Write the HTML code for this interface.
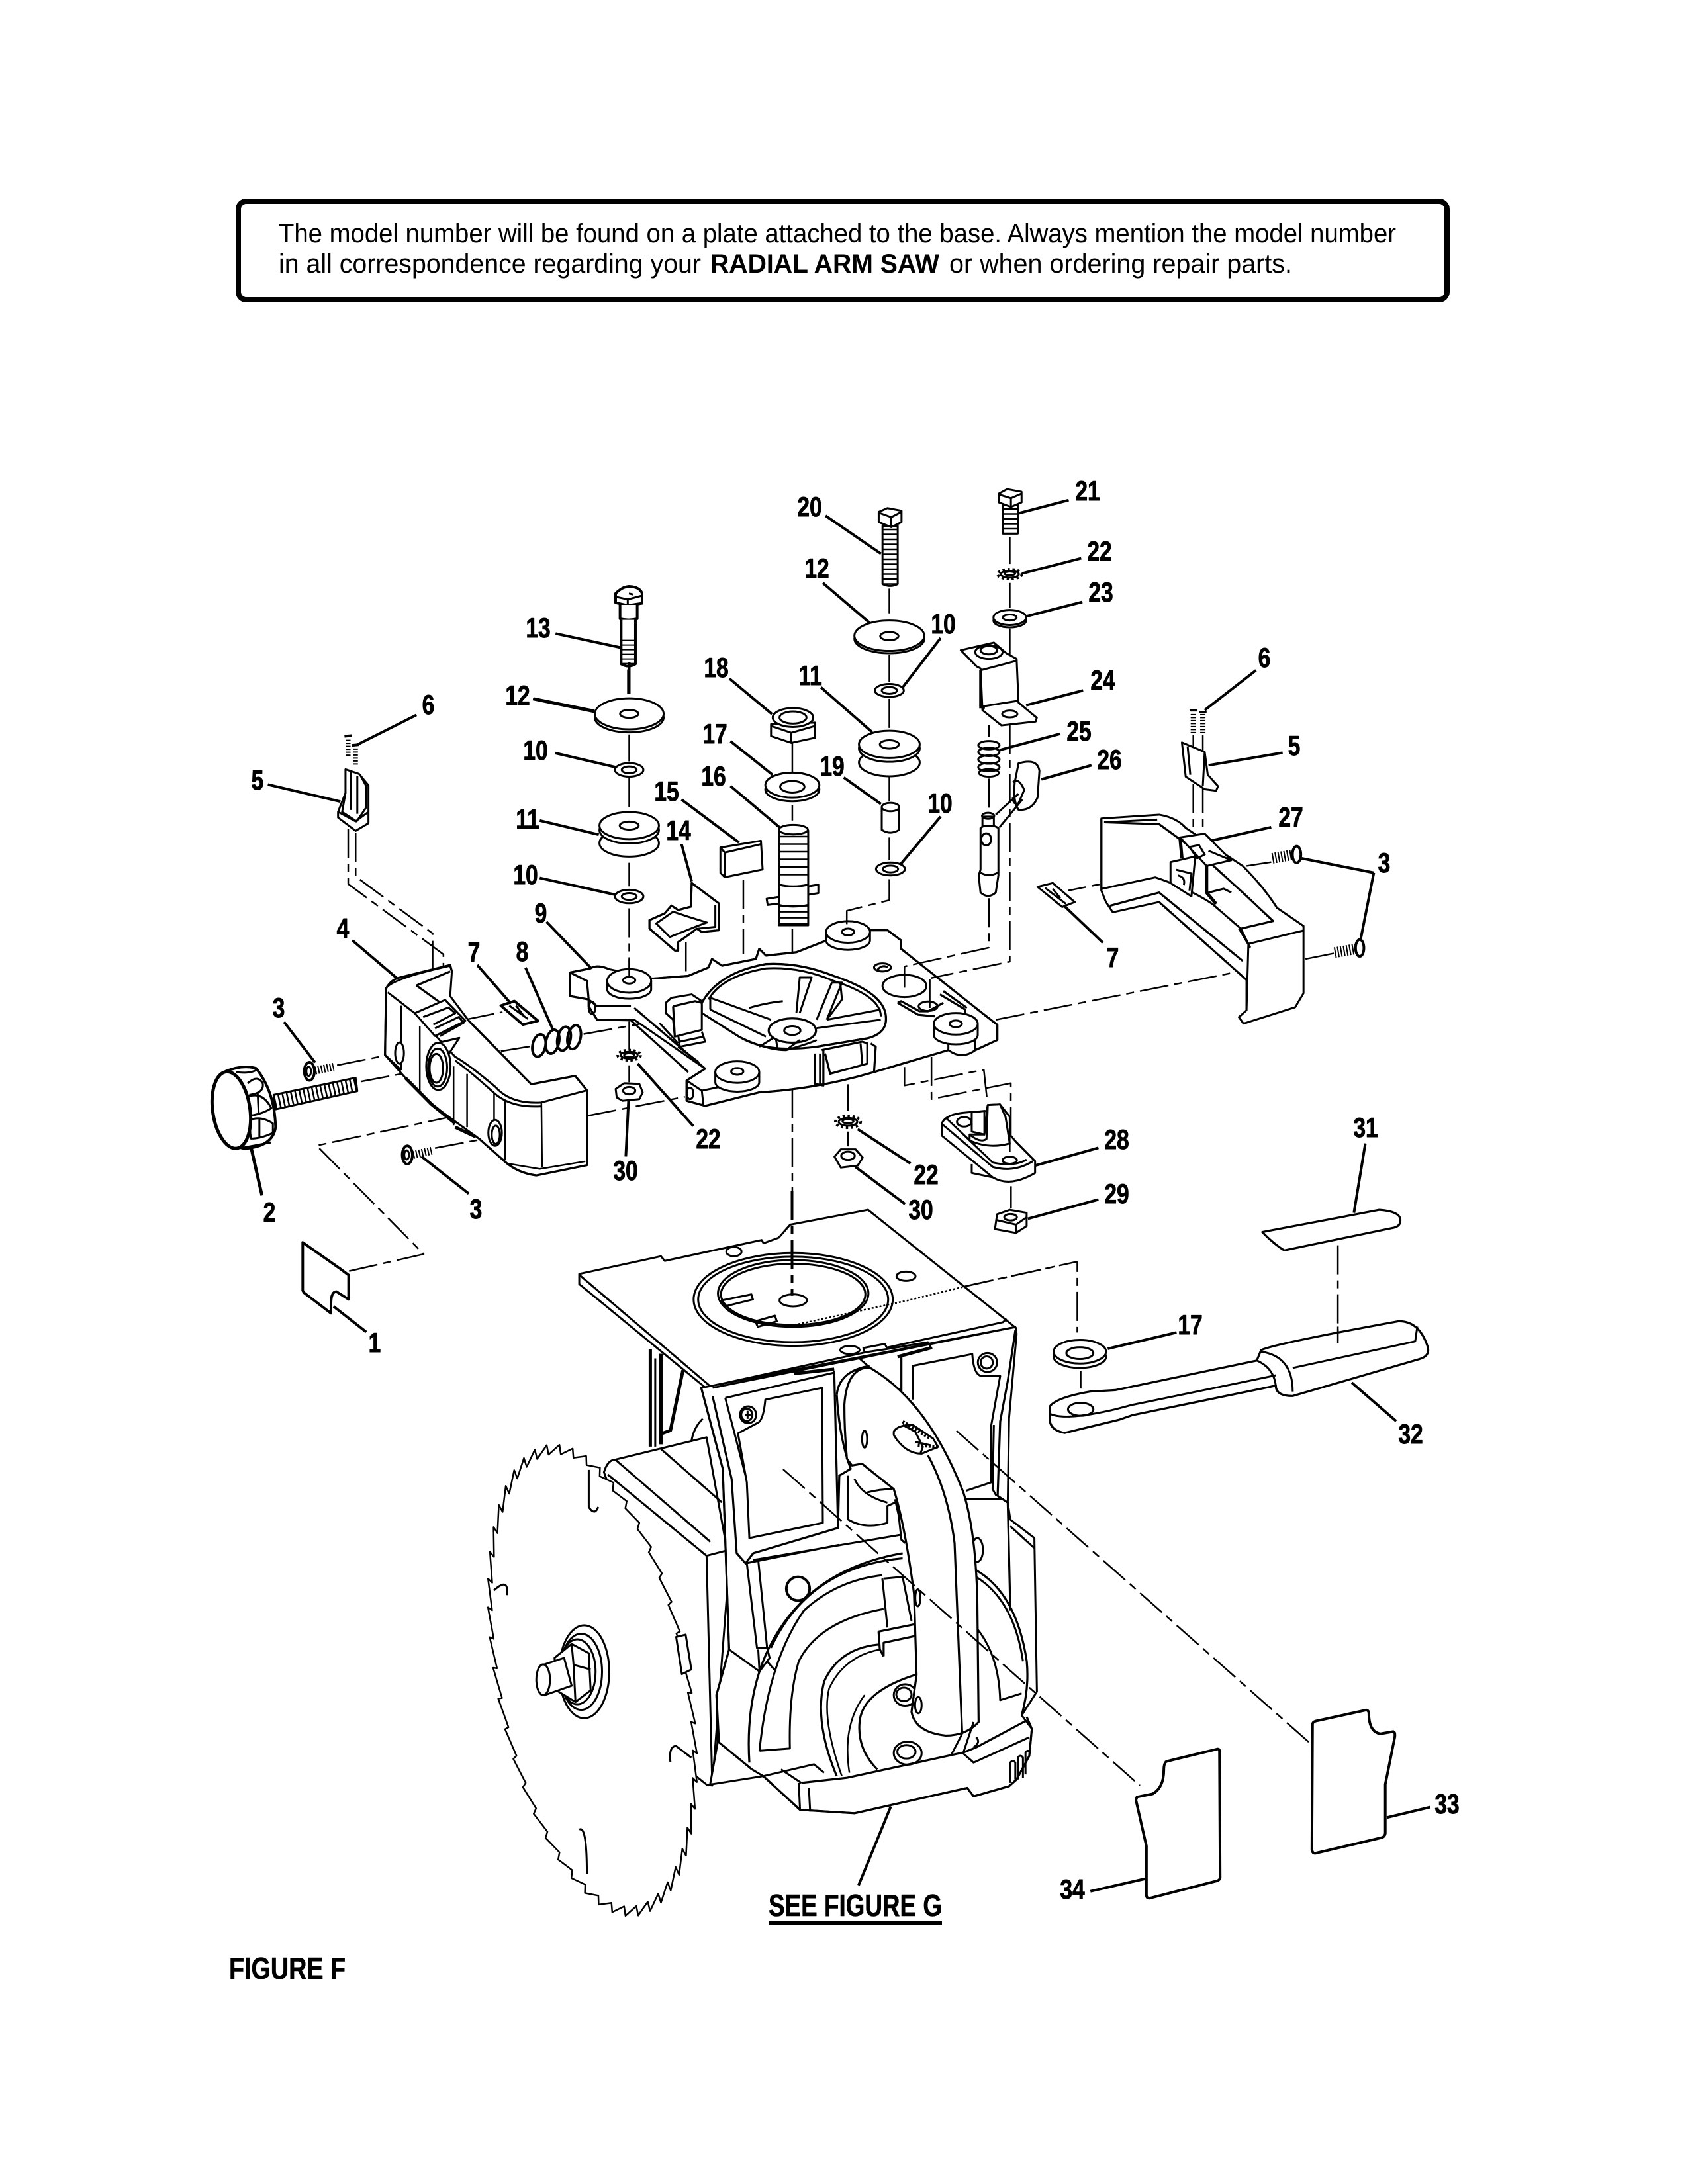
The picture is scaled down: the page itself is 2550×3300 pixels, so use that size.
<!DOCTYPE html>
<html><head><meta charset="utf-8"><style>
html,body{margin:0;padding:0;background:#fff}
svg{display:block}
svg *{vector-effect:non-scaling-stroke}
.w{fill:#fff}
.d{stroke-dasharray:44 9 12 9;stroke-width:2.5}
.L{stroke-width:4}
.T{stroke-width:3.2}
.b{stroke-width:5}
.th{stroke-dasharray:2.5 4}
.lk{stroke-dasharray:3.5 4;stroke-width:4}
text{font-family:"Liberation Sans",sans-serif;fill:#000;stroke:none}
.n{font-weight:bold;font-size:42px;text-anchor:middle;stroke:#000;stroke-width:.8}
.p{font-size:40px}
.c{font-weight:bold;font-size:46px;stroke:#000;stroke-width:.6}
</style></head><body>
<svg xmlns="http://www.w3.org/2000/svg" width="2550" height="3300" viewBox="0 0 2550 3300" fill="none" stroke="#000" stroke-width="3" stroke-linejoin="round" stroke-linecap="butt">
<rect x="360" y="304" width="1826" height="149" rx="12" stroke-width="8"/>
<text class="p" x="421" y="366" textLength="1688" lengthAdjust="spacingAndGlyphs">The model number will be found on a plate attached to the base. Always mention the model number</text>
<text class="p" x="421" y="412" textLength="638" lengthAdjust="spacingAndGlyphs">in all correspondence regarding your</text>
<text class="p" x="1073" y="412" font-weight="bold" textLength="346" lengthAdjust="spacingAndGlyphs">RADIAL ARM SAW</text>
<text class="p" x="1434" y="412" textLength="518" lengthAdjust="spacingAndGlyphs">or when ordering repair parts.</text>

<!-- Z6: body box, plate -->
<g transform="translate(700,1800) scale(.574,.7015)">
<path class="w" d="M370,605Q380,578 400,578L640,530L700,800L655,1280L640,1278L605,1255L500,900Z"/>
<path d="M380,610L640,785L710,770M400,578L650,755M520,555L680,670M640,785L655,1278"/>
<path class="b" d="M492,340L492,550M520,350L520,545M578,385L545,515L522,522"/>
<path d="M630,490Q605,510 600,540M505,360L505,550"/>
<path class="w" d="M305,178L520,140L530,150L785,105L790,112L830,100L860,72L1065,40L1425,275L1455,295L1450,312L660,440L640,425L305,200Z"/>
<path d="M305,180L650,420L1420,282L1430,275"/>
<path class="L" d="M640,425L1450,297"/>
<ellipse cx="868" cy="233" rx="262" ry="100"/><ellipse cx="868" cy="233" rx="250" ry="92"/>
<ellipse cx="868" cy="220" rx="198" ry="72"/><ellipse cx="868" cy="222" rx="190" ry="66"/>
<ellipse cx="868" cy="235" rx="36" ry="13"/>
<path d="M680,235L758,222L762,233L688,248ZM768,280L820,268L825,280L775,292Z"/>
<ellipse cx="712" cy="130" rx="20" ry="10"/><ellipse cx="1165" cy="183" rx="25" ry="10"/>
<path d="M860,290L1170,235L1320,205" stroke-dasharray="3 3" stroke-width="2.5"/>
<path class="d" d="M1320,205L1568,160"/>
<path class="L" d="M865,0L865,225" stroke-dasharray="44 9 12 9"/>
<path class="L" d="M1125,1325L1040,1495"/>
</g>

<!-- blade -->
<g transform="translate(895,2539) rotate(-11) scale(.906,1.034)">
<path class="w" stroke-width="2.5" d="M160,0L153.6,0L158.6,45.7L152.3,43.9L154.5,90.6L148.3,87L147.8,133.9L141.9,128.5L138.6,175L133,168L126.9,213L121.8,204.5L113.1,247.5L108.6,237.6L97.4,277.7L93.5,266.6L80,303L76.8,290.9L61.2,323.4L58.8,310.5L41.4,338L39.7,324.5L20.9,347L20.1,333L0,350L0,336L-20.9,347L-20.1,333L-41.4,338L-39.7,324.5L-61.2,323.4L-58.8,310.5L-80,303L-76.8,290.9L-97.4,277.7L-93.5,266.6L-113.1,247.5L-108.6,237.6L-126.9,213L-121.8,204.5L-138.6,175L-133,168L-147.8,133.9L-141.9,128.5L-154.5,90.6L-148.3,87L-158.6,45.7L-152.3,43.9L-160,0L-153.6,0L-158.6,-45.7L-152.3,-43.9L-154.5,-90.6L-148.3,-87L-147.8,-133.9L-141.9,-128.5L-138.6,-175L-133,-168L-126.9,-213L-121.8,-204.5L-113.1,-247.5L-108.6,-237.6L-97.4,-277.7L-93.5,-266.6L-80,-303L-76.8,-290.9L-61.2,-323.4L-58.8,-310.5L-41.4,-338L-39.7,-324.5L-20.9,-347L-20.1,-333L0,-350L0,-336L20.9,-347L20.1,-333L41.4,-338L39.7,-324.5L61.2,-323.4L58.8,-310.5L80,-303L76.8,-290.9L97.4,-277.7L93.5,-266.6L113.1,-247.5L108.6,-237.6L126.9,-213L121.8,-204.5L138.6,-175L133,-168L147.8,-133.9L141.9,-128.5L154.5,-90.6L148.3,-87L158.6,-45.7L152.3,-43.9Z"/>
</g>
<g transform="translate(700,1800) scale(.574,.7015)">
<path d="M330,600L330,680Q345,700 355,680M80,860Q120,830 115,870M545,1230Q540,1195 560,1195L600,1220M305,1375Q325,1365 325,1470"/>
<path class="w" d="M560,960L585,955L600,1030L575,1040Z"/>
<ellipse class="w" cx="318" cy="1035" rx="66" ry="100"/><ellipse cx="310" cy="1035" rx="55" ry="82"/><ellipse cx="300" cy="1035" rx="48" ry="70"/>
<path class="w" d="M240,1005L285,975L330,995L335,1075L295,1100L245,1075Z"/>
<path d="M285,975L290,1020L335,1030M290,1020L295,1100"/>
<path class="w" d="M210,1020L265,1005L285,1065L215,1085Z"/><ellipse class="w" cx="210" cy="1052" rx="18" ry="33"/>
</g>

<!-- Z7: saw body -->
<g transform="translate(1000,2000) scale(.3827,.5102)">
<path class="w" d="M155,190L1395,10L1400,30L1370,280L1365,530L1375,580L1470,635L1480,1090L1420,1160L1460,1200L1450,1280L1400,1350L1370,1370L1230,1400L1205,1375L760,1450L545,1440L400,1340L190,1365L220,1240L215,1100L265,965L240,430Z"/>
<path class="T" d="M155,190L240,430L265,965L215,1100L225,1240L355,1320M200,215L275,460L295,680L330,710L360,680L695,605L680,140"/>
<path d="M200,190L1395,10M250,220L680,145M250,220L335,465"/>
<path class="b" d="M520,148L680,135M930,98L1060,72"/>
<path class="w" d="M300,325L335,470L345,635L635,590L632,190L408,225Q400,290 375,295Z"/>
<ellipse cx="340" cy="270" rx="32" ry="25"/><ellipse cx="335" cy="270" rx="22" ry="18"/>
<path d="M328,270L350,270M338,258L338,282"/>
<path d="M990,225L990,125L1225,90Q1230,150 1260,155L1335,155L1300,300L1300,470L1200,495"/>
<ellipse cx="1285" cy="115" rx="38" ry="28"/><ellipse cx="1282" cy="115" rx="24" ry="18"/>
<path class="T" d="M945,100L945,210M1395,20L1365,170L1335,290L1325,510L1365,530L1375,850"/>
<path d="M1310,300L1305,490L1320,510M1375,600L1470,665M1195,520L1350,520"/>
<path d="M360,700L945,625M330,710L700,655"/>
<path d="M335,710L375,960L415,960L380,700M380,965L385,1030L265,965M415,960L425,990L385,1030"/>
<ellipse cx="537" cy="785" rx="46" ry="35" stroke-width="4"/>
<ellipse cx="1245" cy="670" rx="22" ry="35"/>
<path class="T" d="M690,210Q700,140 820,125M690,210Q700,340 745,430L700,450L695,600"/>
<path d="M735,450L735,580Q800,610 890,590L890,540L920,530M760,460Q790,510 890,530M810,500Q860,490 910,490"/>
<!-- guard -->
<path class="T" d="M345,1300Q330,1120 410,980Q560,730 950,680M430,960Q580,720 950,695"/>
<path d="M385,1265Q420,1000 560,850Q690,760 870,745M415,1000L450,1030"/>
<path d="M385,1265L505,1258Q500,1100 540,1000Q620,880 875,845M355,1320L400,1340L600,1305L640,1330"/>
<path d="M870,755L890,900M875,755L950,750L985,880"/>
<path class="T" d="M855,912L1000,890M875,985L875,945L1000,925M855,912L860,965L875,985"/>
<!-- disk -->
<path class="T" d="M690,1340Q600,1180 640,1060Q700,960 860,950M850,1320Q770,1260 780,1180Q790,1090 1000,1040"/>
<path stroke-width="2.5" d="M710,1340Q630,1170 660,1080Q720,985 860,965M740,1330Q710,1190 800,1100"/>
<ellipse cx="960" cy="1100" rx="45" ry="32"/><ellipse cx="955" cy="1098" rx="30" ry="20"/>
<ellipse cx="970" cy="1272" rx="55" ry="34"/><ellipse cx="965" cy="1268" rx="36" ry="20"/>
<!-- right side of guard -->
<path class="T" d="M1240,730Q1400,800 1440,1000Q1450,1080 1420,1160"/>
<path d="M1240,750Q1390,820 1425,1000M1240,900Q1330,980 1335,1115L1420,1095"/>
<!-- base -->
<path class="T" d="M400,1340L545,1440L760,1450L1205,1375L1230,1400L1370,1370L1400,1350L1450,1280L1460,1200L1440,1165"/>
<path class="T" d="M550,1360L730,1345L1190,1270L1240,1255L1440,1175"/>
<path d="M470,1320L550,1360M540,1360L545,1440M580,1375L585,1445M1185,1270L1230,1300L1450,1225M1240,1225Q1260,1240 1230,1255"/>
<path d="M1375,1360L1375,1300Q1385,1290 1395,1300L1395,1350M1405,1350L1405,1285Q1415,1275 1425,1285L1425,1345M1435,1335L1435,1270Q1445,1260 1455,1270"/>
<!-- pipe -->
<path class="w T" d="M820,130Q1050,230 1190,500Q1240,620 1245,830L1250,1180Q1200,1220 1120,1220Q1000,1210 985,1150L1005,1040L995,800Q960,600 915,490L790,415L750,420L730,400Q720,320 720,240Q730,130 820,130Z"/>
<path class="T" d="M1050,390Q1130,500 1155,650L1185,1215"/>
<path d="M820,130L775,100M920,520L935,570L945,640L960,650M1185,1215L1140,1280M1230,1180L1190,1270"/>
<ellipse cx="800" cy="342" rx="10" ry="25"/><ellipse cx="1010" cy="812" rx="10" ry="25"/><ellipse cx="1012" cy="1130" rx="13" ry="24"/>
<path class="w" d="M915,320Q930,300 990,300L1070,340L1090,365L1025,385Q960,385 915,330Z"/>
<path stroke-width="5" stroke-dasharray="3 2.5" d="M950,290L1060,340M1010,360L1090,365"/>
<path d="M1020,385L1030,365L1000,320L950,300M1000,350L1060,360"/>
<path class="w" d="M795,72L880,60L890,75L800,85Z"/><ellipse cx="742" cy="78" rx="38" ry="12"/>
<path d="M890,75L1050,55L1065,75"/>
</g>
<path class="d" d="M1183,2220L1722,2698M1445,2162L1978,2633"/>

<!-- Z8: plates 33 34 -->
<g transform="translate(1500,2450) scale(.478)">
<path class="w L" d="M1010,325Q1010,318 1020,315L1180,280Q1188,282 1188,290Q1188,350 1225,355L1265,348Q1272,350 1270,365L1240,515L1240,670Q1238,680 1230,683L1018,733Q1010,733 1008,722Z"/>
<path class="w L" d="M455,555L505,545Q540,525 540,470Q540,445 550,442L710,403Q716,403 716,410L718,810Q716,818 708,820L495,875Q485,875 485,865L485,710L452,565Z"/>
<path class="L" d="M1245,620L1382,587M308,853L482,813"/>
</g>

<!-- Z9: part 1 -->
<g transform="translate(300,1650) scale(.3333)">
<path class="w L" d="M472,682L640,800L680,830L680,940L625,905Q600,905 600,960L600,1003L478,910L472,900Z"/>
<path class="L" d="M612,972L760,1088M240,255L288,467"/>
<path class="d" d="M682,812L1020,735L535,243L1270,85"/>
</g>

<!-- Z10: bolt 13 -->
<g transform="translate(740,840) scale(.3333)">
<path class="w L" d="M570,170Q600,140 630,138Q680,140 690,170L690,215L625,225L570,212Z"/>
<path d="M570,185L625,197L690,180M625,197L625,225M630,170L650,175"/>
<path class="w L" d="M590,222L590,285Q630,295 668,285L668,222"/>
<path class="w L" d="M595,290L595,490Q628,510 660,490L660,290"/>
<line x1="628" y1="380" x2="628" y2="500" style="stroke-width:21;stroke-dasharray:2 5"/>
<path class="L" d="M628,515L628,625M298,352L590,415M200,647L472,702"/>
</g>

<!-- Z2: left arm group -->
<g transform="translate(300,1000) scale(.5102,.574)">
<path class="d" d="M443,440L443,585L725,770L725,940M465,450L465,565L693,715L693,920"/>
<path class="d" d="M410,1062L590,1030M480,1105L700,1068M700,1280L880,1250"/>
<path class="d" d="M790,942L900,922M895,1025L985,1012M1140,980L1390,940M1152,1195L1440,1145"/>
<path class="L" d="M645,140L470,218M205,323L420,368M455,733L590,835M825,798L925,900M968,805L1050,970M253,948L345,1055M800,1400L660,1302M187,1405L155,1280"/>
<!-- part 5 -->
<path class="w" d="M435,283L435,345L413,395L413,410L465,445L503,425L503,325L475,295Z"/>
<path d="M480,300L495,325L495,385L468,420L425,395L435,345M413,395L465,420L503,395M450,290L450,390M470,300L470,400"/>
<line x1="443" y1="205" x2="443" y2="250" style="stroke-width:7;stroke-dasharray:2 2.5"/>
<line x1="465" y1="228" x2="465" y2="272" style="stroke-width:7;stroke-dasharray:2 2.5"/>
<path stroke-width="4" d="M432,196L454,194M453,220L475,218"/>
<!-- arm 4 -->
<path class="w" d="M555,860Q570,835 745,800L750,815L745,880L800,945L985,1112L1115,1090L1150,1128L1150,1325L1000,1352Q940,1345 900,1310L830,1255L690,1165L612,1095L552,1035Z"/>
<path class="T" d="M555,860Q570,835 600,830L745,798L750,815M555,860L552,1035L600,1075M800,945L985,1112L1115,1090L1150,1128L1150,1325L1000,1352Q940,1345 900,1310L830,1255"/>
<path class="b" d="M612,1095L690,1165L760,1215M760,1225L820,1250"/>
<path d="M560,870L640,925L760,1040Q800,1060 880,1120Q925,1165 1015,1160L1150,1128M760,1050Q800,1075 875,1135Q925,1175 1015,1170"/>
<path stroke-width="2.5" d="M1015,1160L1017,1330M910,1320L1010,1335L1145,1315M600,905L600,1075M655,960L655,1130M755,1065L755,1220M795,1085L795,1225M875,1135L875,1220M908,1155L908,1310"/>
<path class="T" d="M645,852L745,815M645,852L720,900"/>
<path class="w" d="M640,925L730,890L790,945L700,985Z"/>
<path d="M665,935L740,910L760,925L695,955M700,965L770,935L785,950L715,985"/>
<path class="w" d="M700,1005L772,990L735,1040Z"/>
<ellipse class="w" cx="710" cy="1065" rx="36" ry="62"/><ellipse cx="708" cy="1068" rx="28" ry="50"/><ellipse cx="704" cy="1070" rx="20" ry="38"/>
<ellipse class="w" cx="878" cy="1240" rx="20" ry="34"/><ellipse cx="880" cy="1245" rx="12" ry="24"/>
<ellipse class="w" cx="595" cy="1030" rx="13" ry="28"/>
<!-- screws 3 -->
<line x1="345" y1="1076" x2="400" y2="1066" style="stroke-width:12;stroke-dasharray:2 2.5"/>
<ellipse class="w L" cx="328" cy="1078" rx="15" ry="24"/><ellipse cx="326" cy="1078" rx="7" ry="12"/>
<line x1="635" y1="1298" x2="690" y2="1287" style="stroke-width:12;stroke-dasharray:2 2.5"/>
<ellipse class="w L" cx="618" cy="1298" rx="15" ry="24"/><ellipse cx="616" cy="1298" rx="7" ry="12"/>
<!-- knob 2 -->
<path class="w" d="M222,1140L465,1095L470,1130L228,1178Z"/>
<line x1="225" y1="1160" x2="468" y2="1113" style="stroke-width:21;stroke-dasharray:2.5 4"/>
<path class="w L" d="M80,1078Q130,1060 170,1070Q225,1130 228,1225Q220,1272 150,1280Q125,1284 100,1270Z" stroke-width="5"/>
<path d="M145,1110Q175,1085 190,1110Q195,1135 150,1140M145,1145Q190,1130 215,1175Q190,1190 150,1195Q140,1170 145,1145M155,1205Q185,1195 220,1215L220,1240Q185,1255 155,1255Q150,1230 155,1205M125,1280L215,1265M175,1135L178,1190M180,1200L180,1250M110,1080Q150,1085 170,1075"/>
<ellipse class="w" cx="97" cy="1180" rx="55" ry="102" transform="rotate(-10 97 1180)" stroke-width="5"/>
<!-- spring 8 -->
<g stroke-width="4"><ellipse cx="1008" cy="1010" rx="19" ry="30" transform="rotate(15 1008 1010)"/><ellipse cx="1048" cy="1000" rx="19" ry="32" transform="rotate(15 1048 1000)"/><ellipse cx="1082" cy="992" rx="19" ry="32" transform="rotate(15 1082 992)"/><ellipse cx="1112" cy="988" rx="19" ry="32" transform="rotate(15 1112 988)"/></g>
<!-- part 7 -->
<path stroke-width="4" d="M895,905L935,893L1005,945L960,955Z"/><path d="M920,905L975,940M940,905L965,935"/>
</g>

<!-- Z3: centre plate -->
<g transform="translate(800,1000) scale(.5102)">
<path class="L" d="M295,0L295,95"/>
<path class="d" d="M295,215L295,295M295,345L295,430M295,595L295,665M295,730L295,940M778,240L778,330M778,425L778,470M778,790L778,1085M463,830L463,990M633,645L633,865M778,1265L778,1568"/>
<path class="d" d="M1110,1200L1110,1255L1345,1208L1355,1300M1190,1170L1190,1295L1425,1248L1425,1470"/>
<path class="d" d="M295,1065L295,1150M295,1195L295,1245"/>
<path class="L" d="M592,50L718,155M595,235L720,335M595,368L740,490M450,408L620,535M450,540L480,650M50,770L180,905M75,270L255,312M30,470L205,512M30,640L255,690M485,1375L320,1190M285,1465L293,1300M10,110L192,148"/>
<!-- plate -->
<path class="w" d="M120,920L180,908Q200,895 235,910L365,938L470,930L530,905L540,880L570,900L670,880L680,850L700,870L790,860L880,825L1010,795L1060,795L1100,825L1100,850L1340,1040L1385,1075L1385,1120L1320,1150L1240,1150L1020,1215Q850,1265 680,1275L520,1315L465,1300L465,1240L520,1205L310,1060L200,1060L175,1020L175,1000L120,990Z"/>
<path class="T" d="M120,920L180,908Q200,895 235,910M120,920L120,990L175,1000L175,1020L200,1060L300,1062M120,920L170,945L175,1000L200,1020L300,1020M365,938L470,930L530,905L540,880L570,900L670,880L680,850L700,870L790,860L880,825M1010,795L1060,795L1100,825L1100,850L1340,1040L1385,1075L1385,1120L1320,1150M1240,1150L1020,1215Q850,1265 680,1275L520,1315L465,1300L465,1240L520,1205L310,1025M300,1062L470,1215"/>
<path d="M465,1240L510,1270L680,1235M510,1270L515,1315M440,1140L500,1185M385,1070L440,1130"/>
<!-- dish -->
<path class="w" d="M510,1010Q560,920 700,895Q800,890 900,930Q1050,980 1055,1050Q1060,1100 1000,1115L850,1140Q700,1160 620,1110L510,1040Z"/>
<path class="T" d="M510,1010Q560,920 700,895Q800,890 900,930Q1050,980 1055,1050Q1060,1100 1000,1115L850,1140"/>
<path d="M530,1000Q570,930 700,908Q800,902 900,945Q1040,990 1040,1050"/>
<path d="M535,995L715,1060M535,1030L700,1110M535,995L535,1030M650,1025Q700,1010 750,1005M850,1085L1040,1060M880,1060L1040,1030M790,1040L800,935L835,935L800,1040M850,1060L895,950L925,950L880,1060M920,950L925,1000L880,1060M510,1040L620,1110Q700,1150 760,1150Q830,1130 850,1120M680,1140L720,1115"/>
<ellipse class="w T" cx="778" cy="1092" rx="70" ry="36"/><ellipse cx="778" cy="1092" rx="24" ry="13"/>
<path d="M730,1120L735,1150M800,1120L760,1150"/>
<!-- block -->
<path class="w" d="M403,1010L420,995L480,985L510,1005L510,1090L430,1110L425,1060L403,1040Z"/>
<path class="T" d="M425,1020L490,1005L510,1010M425,1020L430,1110"/>
<path d="M440,1105L445,1140L520,1125L510,1095M445,1125L515,1110"/>
<!-- right plate detail -->
<ellipse class="w" cx="1110" cy="960" rx="65" ry="33"/>
<ellipse cx="1045" cy="905" rx="25" ry="12"/><path d="M1030,912Q1045,895 1060,905"/>
<path class="T" d="M1090,1010L1150,1045L1200,1050M1215,985L1290,1030L1290,1045M1225,975L1295,1025M1090,1010L1100,1005L1155,1035L1180,1035L1225,1010"/>
<ellipse cx="1180" cy="1020" rx="28" ry="14"/>
<path class="d" d="M1110,900L1110,965M1185,940L1185,1025"/>
<!-- pocket -->
<path class="T" d="M845,1160L845,1250L870,1255L870,1150M865,1150L985,1125L1000,1130L1000,1190L890,1220L875,1160M1010,1130L1025,1140L1020,1215"/>
<path d="M980,1130L985,1190M860,1160L860,1250"/>
<!-- bosses -->
<path class="w" d="M230,945L230,970A65,28 0 0 0 360,970L360,945Z"/><ellipse class="w" cx="295" cy="945" rx="65" ry="35"/><ellipse cx="295" cy="943" rx="18" ry="10"/>
<path class="d" d="M295,880L295,935"/>
<path class="w" d="M878,800L878,825A65,28 0 0 0 1008,825L1008,800Z"/><ellipse class="w" cx="943" cy="800" rx="65" ry="32"/><ellipse cx="943" cy="800" rx="18" ry="10"/>
<path class="w" d="M1240,1110L1240,1150Q1280,1180 1320,1150L1320,1110Z"/>
<path class="w" d="M1197,1075L1197,1105A65,28 0 0 0 1327,1105L1327,1075Z"/><ellipse class="w" cx="1262" cy="1072" rx="65" ry="32"/><ellipse cx="1262" cy="1072" rx="18" ry="10"/>
<path class="w" d="M550,1215L550,1245A65,28 0 0 0 680,1245L680,1215Z"/><ellipse class="w" cx="615" cy="1215" rx="65" ry="32"/><ellipse cx="615" cy="1213" rx="18" ry="10"/>
<ellipse cx="185" cy="1025" rx="10" ry="18"/><ellipse cx="475" cy="1278" rx="10" ry="17"/>
<!-- left stack -->
<ellipse class="w" cx="295" cy="165" rx="102" ry="44"/><ellipse class="w" cx="295" cy="154" rx="102" ry="46"/><ellipse cx="295" cy="154" rx="27" ry="12"/>
<ellipse class="w" cx="295" cy="320" rx="42" ry="20"/><ellipse cx="295" cy="320" rx="22" ry="10"/>
<ellipse class="w" cx="295" cy="537" rx="88" ry="40"/><path class="w" d="M240,495L350,495L350,525L240,525Z" stroke="none"/><path d="M240,510L240,525M350,510L350,525"/><ellipse class="w" cx="295" cy="498" rx="88" ry="40"/><ellipse class="w" cx="295" cy="485" rx="88" ry="40"/><ellipse cx="295" cy="485" rx="28" ry="12"/>
<ellipse class="w" cx="295" cy="695" rx="42" ry="20"/><ellipse cx="295" cy="695" rx="22" ry="10"/>
<!-- 14 -->
<path class="w" d="M355,765L355,790L430,855L440,855L440,830Q470,810 495,790L510,800L560,795L560,715L480,655L478,725L440,735L420,722L400,745Z"/>
<path class="T" d="M480,655L560,715L560,795L510,800L495,790Q470,810 440,830L440,855L430,855L355,790L355,765L400,745L420,722L440,735L478,725Z"/>
<path d="M375,775L425,740L470,755L525,772L490,785L440,805L415,815Z M500,790L550,785L550,720"/>
<!-- 15 -->
<path class="w" d="M565,550L685,530L690,615L578,638L565,625Z"/><path d="M565,550L578,565L685,540M578,565L578,638"/>
<!-- 16 -->
<path class="w" d="M702,702L745,695L745,715L705,720Z"/><path class="w" d="M825,665L855,660L855,685L825,690Z"/>
<rect class="w" x="738" y="500" width="87" height="280"/>
<ellipse class="w" cx="781" cy="497" rx="43" ry="14"/>
<line x1="781" y1="515" x2="781" y2="650" stroke-width="44" stroke-dasharray="2.5 9"/>
<line x1="781" y1="720" x2="781" y2="785" stroke-width="44" stroke-dasharray="2.5 6.5"/>
<path d="M738,660Q780,670 825,660M738,720Q780,730 825,720"/>
<!-- 17 -->
<ellipse class="w" cx="778" cy="378" rx="80" ry="35"/><ellipse class="w" cx="778" cy="365" rx="80" ry="37"/><ellipse cx="778" cy="370" rx="36" ry="17"/>
<!-- 18 -->
<path class="w" d="M715,185L715,220L775,240L845,225L845,180Z"/>
<path d="M715,190L775,210L845,190M775,210L775,240"/>
<ellipse class="w" cx="780" cy="165" rx="60" ry="28"/><ellipse cx="780" cy="165" rx="40" ry="18"/>
<!-- 22,30 -->
<ellipse class="lk" cx="295" cy="1165" rx="34" ry="15"/><ellipse class="w" cx="295" cy="1165" rx="25" ry="10"/><ellipse cx="295" cy="1165" rx="15" ry="6"/>
<path class="w" d="M255,1265L280,1248L325,1250L335,1275L325,1295L275,1300L258,1290Z"/><ellipse cx="295" cy="1270" rx="18" ry="11"/>
</g>

<!-- Z4: right stack and cover -->
<g transform="translate(1200,700) scale(.574)">
<path class="d" d="M250,330L250,395M250,505L250,575M250,620L250,700M250,825L250,890M250,985L250,1045M250,1095L250,1150L138,1178L138,1225"/>
<path class="d" d="M567,195L567,265M567,315L567,380M567,435L567,505M567,690L567,1312L360,1355M512,690L512,720M512,830L512,915M512,1145L512,1275L288,1325"/>
<path class="d" d="M1050,715L1050,1010M1075,715L1075,1000M1020,1065L720,1125M530,1465L1160,1340"/>
<path class="d" d="M1255,1050L1190,1060M1420,1290L1345,1305"/>
<path class="L" d="M82,138L228,238M75,315L198,420M385,460L285,590M70,590L205,708M130,827L228,897M385,930L280,1055M722,97L585,133M755,250L600,290M758,365L610,403M760,598L610,637M700,712L540,755M782,795L650,832M1215,545L1080,650M1285,762L1090,795M1255,958L1090,995M1525,1078L1335,1040M1525,1078L1490,1255M812,1262L710,1165"/>
<!-- 20 -->
<path class="w" d="M232,165L272,165L272,318Q252,328 232,318Z"/>
<line x1="252" y1="172" x2="252" y2="322" stroke-width="22" stroke-dasharray="2.5 5"/>
<path class="w" d="M222,128L245,118L282,125L282,155L255,168L222,155Z"/><path d="M222,130L255,142L282,128M255,142L255,168"/>
<!-- 12 -->
<ellipse class="w" cx="250" cy="462" rx="92" ry="38"/><ellipse class="w" cx="250" cy="454" rx="92" ry="40"/><ellipse cx="250" cy="455" rx="24" ry="11"/>
<ellipse class="w" cx="250" cy="598" rx="38" ry="17"/><ellipse cx="250" cy="598" rx="20" ry="9"/>
<ellipse class="w" cx="250" cy="788" rx="80" ry="36"/><path class="w" d="M205,750L295,750L295,775L205,775Z" stroke="none"/><path d="M205,760L205,775M295,760L295,775"/><ellipse class="w" cx="250" cy="750" rx="80" ry="36"/><ellipse class="w" cx="250" cy="740" rx="80" ry="36"/><ellipse cx="250" cy="740" rx="25" ry="11"/>
<path class="w" d="M230,905L230,965Q252,980 276,965L276,905Z"/><ellipse class="w" cx="253" cy="905" rx="23" ry="11"/>
<ellipse class="w" cx="253" cy="1068" rx="38" ry="17"/><ellipse cx="253" cy="1068" rx="20" ry="9"/>
<!-- 21 -->
<path class="w" d="M548,110L588,110L588,185L548,185Z"/>
<line x1="568" y1="118" x2="568" y2="190" stroke-width="22" stroke-dasharray="2.5 5"/>
<path class="w" d="M538,80L560,68L598,75L598,103L570,115L538,103Z"/><path d="M538,82L570,92L598,80M570,92L570,115"/>
<!-- 22/23 -->
<ellipse class="lk" cx="567" cy="292" rx="32" ry="13"/><ellipse class="w" cx="567" cy="292" rx="24" ry="9"/><ellipse cx="567" cy="290" rx="14" ry="5"/>
<ellipse class="w" cx="567" cy="414" rx="43" ry="18"/><ellipse class="w" cx="567" cy="406" rx="43" ry="20"/><ellipse cx="567" cy="406" rx="18" ry="8"/>
<!-- 24 -->
<path class="w" d="M438,492L525,472L558,500L585,515L590,630L638,670L635,680L545,690L495,650L490,540L480,535Z"/>
<path d="M490,545L585,520M495,640L590,625M497,650L500,640"/>
<ellipse cx="512" cy="497" rx="36" ry="18"/><ellipse cx="512" cy="492" rx="22" ry="11"/><ellipse cx="567" cy="660" rx="20" ry="9"/>
<path stroke-width="4" d="M490,545L490,645"/>
<!-- 25 -->
<g><ellipse cx="512" cy="742" rx="28" ry="11"/><ellipse cx="512" cy="760" rx="28" ry="11"/><ellipse cx="512" cy="780" rx="28" ry="11"/><ellipse cx="512" cy="800" rx="28" ry="11"/><ellipse cx="512" cy="815" rx="26" ry="10"/></g>
<!-- 26 and pin -->
<path class="w" d="M590,790Q640,775 645,810L640,880Q625,915 590,912Q575,890 580,840Z"/>
<path d="M575,840Q590,825 605,860L590,895Q575,900 575,880"/>
<path class="w" d="M490,960L490,1070L485,1085L490,1130Q510,1148 530,1130L537,1085L537,960Q510,945 490,960Z"/>
<path class="w" d="M495,930L495,955L525,955L525,930Z"/><ellipse cx="510" cy="928" rx="16" ry="8"/>
<ellipse cx="505" cy="990" rx="13" ry="16"/><path d="M490,1078Q512,1090 535,1078"/>
<path d="M530,925L590,870M540,958L600,885"/>
<!-- cover -->
<path class="w" d="M808,935L960,925Q1005,932 1030,960L1180,1060Q1235,1115 1270,1170L1340,1218L1340,1395L1318,1432L1182,1475L1170,1458L1190,1440L1190,1360L960,1155L838,1182L820,1155L808,1125Z"/>
<path class="T" d="M808,935L808,1125M815,945L960,950L1070,1030L1180,1130L1260,1205L1175,1225M830,1165L960,1130L1180,1310"/>
<path d="M810,1120L950,1090Q1040,1120 1100,1160L1175,1225L1195,1265L1340,1230M1195,1265L1190,1440M960,1155L1190,1360M820,945L955,938M1170,1225L1200,1275"/>
<path class="w" d="M990,1050L1055,1035L1045,1140L990,1105Z"/>
<path d="M1005,1070L1045,1080L1040,1125M1010,1085Q1030,1090 1025,1110"/>
<path stroke-width="5" d="M1015,985L1020,1040M1085,1055L1085,1130L1110,1160"/>
<path class="w" d="M1015,985L1080,975L1150,1045L1085,1060Z"/>
<path d="M1040,1010L1065,1005L1080,1030L1060,1040ZM1090,1020L1150,1045M1090,1130L1130,1120L1150,1130"/>
<!-- 5, 6 -->
<path class="w" d="M1020,735L1080,760L1088,820L1115,850L1110,862L1080,858L1030,825Z"/>
<path d="M1035,745L1042,820M1080,760L1075,850"/>
<line x1="1050" y1="660" x2="1050" y2="710" style="stroke-width:8;stroke-dasharray:2 2.5"/>
<line x1="1075" y1="660" x2="1075" y2="710" style="stroke-width:8;stroke-dasharray:2 2.5"/>
<path stroke-width="4" d="M1040,650L1060,650M1065,655L1085,655"/>
<!-- screws -->
<line x1="1258" y1="1040" x2="1315" y2="1030" stroke-width="16" stroke-dasharray="2 2.5"/>
<ellipse class="w L" cx="1322" cy="1030" rx="11" ry="22"/>
<line x1="1422" y1="1288" x2="1480" y2="1278" stroke-width="16" stroke-dasharray="2 2.5"/>
<ellipse class="w L" cx="1488" cy="1276" rx="11" ry="22"/>
<!-- 7 -->
<path class="w" d="M640,1115L680,1105L738,1155L705,1168Z"/><path d="M660,1118L715,1160M680,1120L700,1145"/>
</g>

<!-- Z5: lower right parts -->
<g transform="translate(1200,1500) scale(.638,.4464)">
<path class="d" d="M513,655L513,730M127,310L127,400M127,470L127,520"/>
<path class="d" d="M400,995L670,910L670,1150M1287,855L1287,1185M678,1280L678,1340" />
<path class="L" d="M720,525L570,585M720,700L553,765M275,578L150,462M262,715L145,590M1352,510L1325,745M905,1150L742,1205M1425,1450L1320,1320"/>
<!-- 28 -->
<path class="w" d="M350,440Q360,410 410,405L455,400L458,380L487,378L510,420L510,480L525,505L570,570L570,610Q510,660 470,625L350,485Z"/>
<path d="M350,445L470,590Q520,610 565,570M420,580L420,610L470,625M360,425L470,575Q520,590 550,565"/>
<ellipse cx="402" cy="437" rx="17" ry="16"/><ellipse cx="510" cy="567" rx="17" ry="12"/>
<path class="w" d="M415,480L415,500Q460,530 510,510L500,420L487,378L458,380L450,480Z"/>
<path d="M415,480Q440,510 455,495L458,380M420,405L450,400L450,480L420,470Z"/>
<path class="d" d="M510,440L510,560"/>
<!-- 29 -->
<path class="w" d="M480,750L510,735L550,745L550,790L525,813L475,800Z"/><path d="M480,770L525,785L550,760M525,785L525,813"/><ellipse cx="512" cy="760" rx="15" ry="11"/>
<!-- 22/30 -->
<ellipse class="lk" cx="127" cy="437" rx="30" ry="20"/><ellipse class="w" cx="127" cy="437" rx="22" ry="13"/><ellipse cx="127" cy="435" rx="13" ry="7"/>
<path class="w" d="M95,555L110,530L145,530L162,558L150,585L110,592Z"/><ellipse cx="127" cy="552" rx="16" ry="14"/>
<!-- 31 -->
<path class="w T" d="M1108,810L1385,735Q1435,740 1435,770Q1435,790 1420,795L1160,872Q1135,850 1108,810Z"/>
<!-- 17 -->
<ellipse class="w" cx="676" cy="1232" rx="62" ry="38"/><ellipse class="w" cx="676" cy="1215" rx="62" ry="40"/><ellipse cx="676" cy="1220" rx="32" ry="20"/>
<!-- 32 -->
<path class="w T" d="M605,1400Q620,1370 700,1350L760,1345L1095,1245L1105,1210Q1130,1190 1430,1112Q1480,1110 1500,1200Q1505,1230 1480,1240L1180,1365Q1140,1365 1140,1330L800,1430L770,1445L640,1490Q600,1480 605,1430Z"/>
<ellipse cx="678" cy="1410" rx="30" ry="22"/>
<path d="M1105,1215Q1180,1230 1180,1350M1180,1270L1470,1180L1475,1130M605,1425Q640,1450 760,1410L800,1395L1140,1295M1095,1245Q1135,1270 1140,1330"/>
<path class="d" d="M1287,1130L1287,1185"/>
</g>

<!-- labels -->
<g>
<text class="n" transform="translate(1223,780) scale(.8,1)">20</text>
<text class="n" transform="translate(1643,756) scale(.8,1)">21</text>
<text class="n" transform="translate(1234,873) scale(.8,1)">12</text>
<text class="n" transform="translate(1661,847) scale(.8,1)">22</text>
<text class="n" transform="translate(1663,909) scale(.8,1)">23</text>
<text class="n" transform="translate(1425,957) scale(.8,1)">10</text>
<text class="n" transform="translate(813,963) scale(.8,1)">13</text>
<text class="n" transform="translate(1082,1023) scale(.8,1)">18</text>
<text class="n" transform="translate(1224,1035) scale(.8,1)">11</text>
<text class="n" transform="translate(1666,1042) scale(.8,1)">24</text>
<text class="n" transform="translate(1910,1008) scale(.8,1)">6</text>
<text class="n" transform="translate(647,1079) scale(.8,1)">6</text>
<text class="n" transform="translate(782,1065) scale(.8,1)">12</text>
<text class="n" transform="translate(1080,1123) scale(.8,1)">17</text>
<text class="n" transform="translate(1630,1119) scale(.8,1)">25</text>
<text class="n" transform="translate(809,1148) scale(.8,1)">10</text>
<text class="n" transform="translate(1078,1187) scale(.8,1)">16</text>
<text class="n" transform="translate(1676,1162) scale(.8,1)">26</text>
<text class="n" transform="translate(1955,1141) scale(.8,1)">5</text>
<text class="n" transform="translate(389,1193) scale(.8,1)">5</text>
<text class="n" transform="translate(1007,1210) scale(.8,1)">15</text>
<text class="n" transform="translate(1257,1172) scale(.8,1)">19</text>
<text class="n" transform="translate(1420,1228) scale(.8,1)">10</text>
<text class="n" transform="translate(797,1252) scale(.8,1)">11</text>
<text class="n" transform="translate(1025,1269) scale(.8,1)">14</text>
<text class="n" transform="translate(1950,1249) scale(.8,1)">27</text>
<text class="n" transform="translate(2091,1318) scale(.8,1)">3</text>
<text class="n" transform="translate(794,1336) scale(.8,1)">10</text>
<text class="n" transform="translate(817,1394) scale(.8,1)">9</text>
<text class="n" transform="translate(518,1417) scale(.8,1)">4</text>
<text class="n" transform="translate(716,1453) scale(.8,1)">7</text>
<text class="n" transform="translate(789,1452) scale(.8,1)">8</text>
<text class="n" transform="translate(1681,1461) scale(.8,1)">7</text>
<text class="n" transform="translate(421,1537) scale(.8,1)">3</text>
<text class="n" transform="translate(1070,1735) scale(.8,1)">22</text>
<text class="n" transform="translate(1687,1736) scale(.8,1)">28</text>
<text class="n" transform="translate(1399,1789) scale(.8,1)">22</text>
<text class="n" transform="translate(945,1783) scale(.8,1)">30</text>
<text class="n" transform="translate(1391,1842) scale(.8,1)">30</text>
<text class="n" transform="translate(1687,1818) scale(.8,1)">29</text>
<text class="n" transform="translate(407,1846) scale(.8,1)">2</text>
<text class="n" transform="translate(719,1841) scale(.8,1)">3</text>
<text class="n" transform="translate(2063,1718) scale(.8,1)">31</text>
<text class="n" transform="translate(1798,2016) scale(.8,1)">17</text>
<text class="n" transform="translate(566,2043) scale(.8,1)">1</text>
<text class="n" transform="translate(2131,2181) scale(.8,1)">32</text>
<text class="n" transform="translate(2186,2740) scale(.8,1)">33</text>
<text class="n" transform="translate(1620,2869) scale(.8,1)">34</text>
<text class="c" x="1161" y="2895" textLength="262" lengthAdjust="spacingAndGlyphs">SEE FIGURE G</text>
<rect x="1161" y="2903" width="262" height="5" fill="#000" stroke="none"/>
<text class="c" x="346" y="2990" textLength="176" lengthAdjust="spacingAndGlyphs">FIGURE F</text>
</g>
</svg>
</body></html>
